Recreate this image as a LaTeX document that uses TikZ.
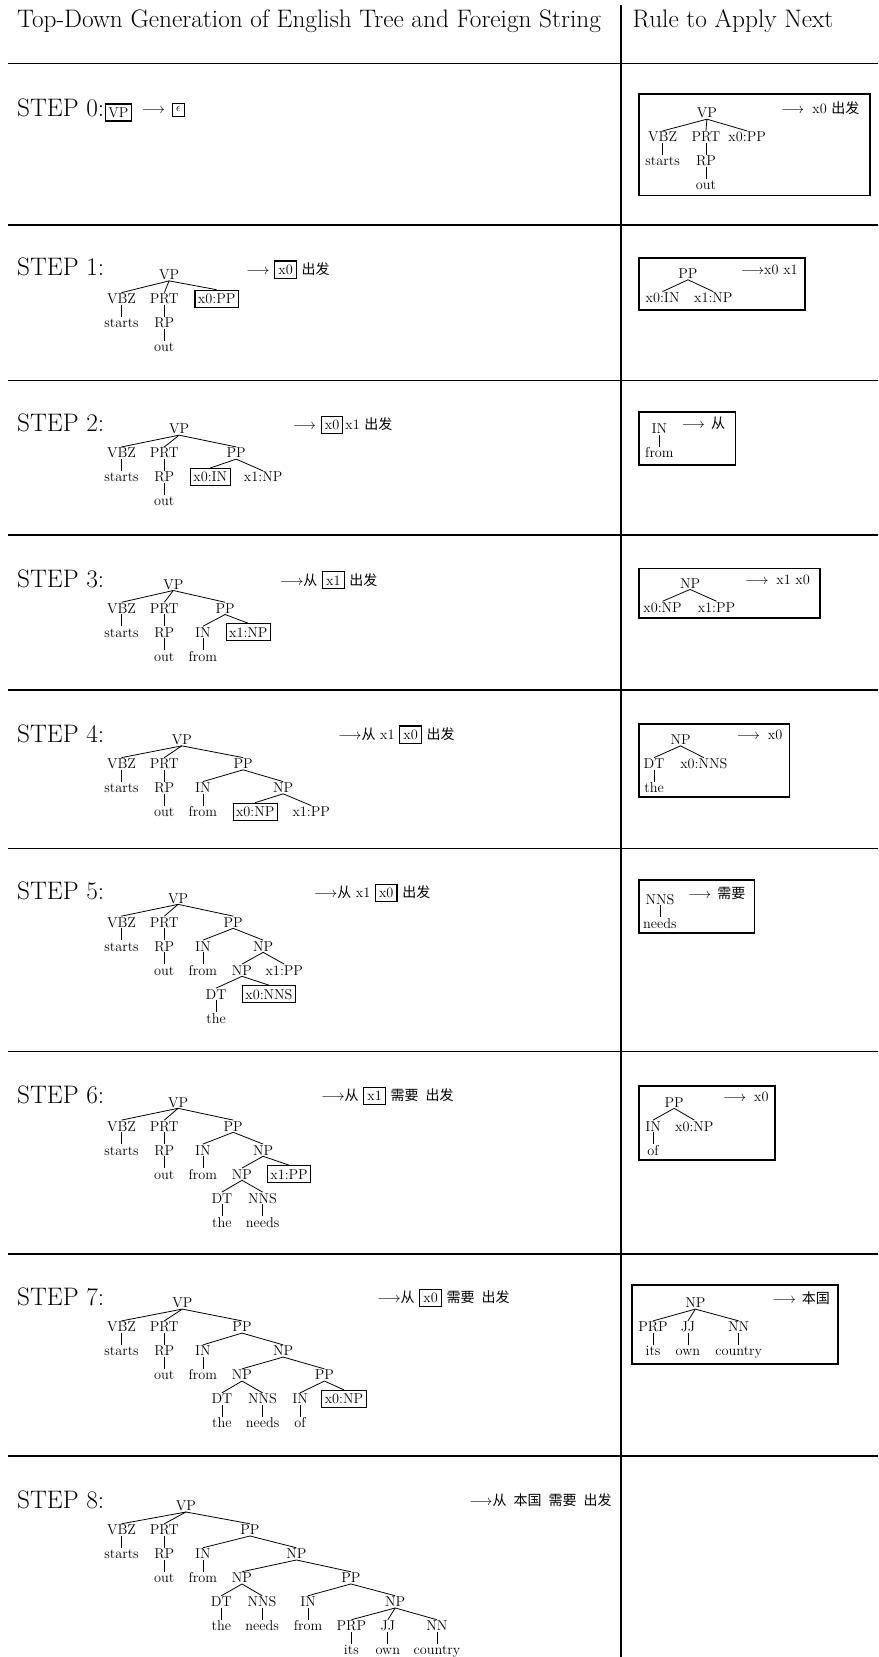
\documentclass[tikz,border=0pt]{standalone}
\usepackage{fontspec}
\newfontfamily\cjk{Noto Sans CJK SC}
\newcommand\tf{\fontsize{14.3}{17}\selectfont}
\newcommand\bigf{\fontsize{25.3}{30}\selectfont}
\newcommand\cj[1]{{\fontsize{14}{16}\selectfont\cjk #1}}
\newcommand\cs{\hspace{7pt}}
\newcommand\bv[1]{{\setlength\fboxsep{3pt}\setlength\fboxrule{1.1pt}\fbox{\rule{0pt}{9.8pt}#1}}}
\tikzset{
 tn/.style={font=\tf, inner sep=1pt, text height=9.8pt, text depth=0pt},
 bx/.style={tn, draw, line width=1.1pt, inner xsep=3pt, inner ysep=3.6pt},
 tedge/.style={line width=0.8pt},
 hrule/.style={line width=1.8pt},
 rbox/.style={line width=1.8pt},
 stl/.style={font=\bigf, anchor=west, inner sep=0pt, text height=17.2pt, text depth=0pt},
 outl/.style={tn, anchor=west, inner sep=0pt},
}
\newcommand\tcon[2]{\draw[tedge] (#1.south) -- (#2.north);}
\newcommand\lefttree{%
 \node[tn] (vbz) at (115,22.7) {VBZ};
 \node[tn] (starts) at (115,45.4) {starts};
 \node[tn] (prt) at (155.5,22.7) {PRT};
 \node[tn] (rp) at (155.5,45.4) {RP};
 \node[tn] (out) at (155.5,68.1) {out};
 \tcon{vp}{vbz}\tcon{vp}{prt}\tcon{vbz}{starts}\tcon{prt}{rp}\tcon{rp}{out}}
\newcommand\fromnode{%
 \node[tn] (in) at (192,45.4) {IN};
 \node[tn] (from) at (192,68.1) {from};
 \tcon{pp}{in}\tcon{in}{from}}
\begin{document}
\begin{tikzpicture}[x=1.0566pt,y=-1.0566pt]
\useasboundingbox (0,0) rectangle (831,1568);
% grid
\foreach \yy in {60,213,360,506,653,803,995,1187,1378}
  \draw[hrule] (7.5,\yy) -- (831,\yy);
\draw[hrule] (588,5) -- (588,1568);
% headers
\node[stl] (title) at (16,17.5) {Top-Down Generation of English Tree and Foreign String};
\node[stl] (title2) at (598.5,17.5) {Rule to Apply Next};
% step labels
\node[stl] (st0) at (16,102) {STEP 0:};
\node[stl] (st1) at (16,253) {STEP 1:};
\node[stl] (st2) at (16,400) {STEP 2:};
\node[stl] (st3) at (16,548) {STEP 3:};
\node[stl] (st4) at (16,694) {STEP 4:};
\node[stl] (st5) at (16,843) {STEP 5:};
\node[stl] (st6) at (16,1036) {STEP 6:};
\node[stl] (st7) at (16,1227) {STEP 7:};
\node[stl] (st8) at (16,1419) {STEP 8:};
% STEP 0
\node[bx] (s0vp) at (112,106.5) {VP};
\node[outl] (s0arr) at (134,102.5) {$\longrightarrow$};
\node[draw, line width=0.6pt, inner sep=0pt, minimum width=12pt, minimum height=13pt, font=\fontsize{12}{13}\selectfont] (s0eps) at (169,103.5) {$\epsilon$};
% STEP 1
\begin{scope}[shift={(0,260)}, name prefix=s1-]
\node[tn] (vp) at (160,0) {VP};
\lefttree
\node[bx] (pp) at (205,22.7) {x0:PP};
\tcon{vp}{pp}
\end{scope}
\node[outl] (s1out) at (233,255) {$\longrightarrow$ \bv{x0} \cj{出发}};
% STEP 2
\begin{scope}[shift={(0,406)}, name prefix=s2-]
\node[tn] (vp) at (169.5,0) {VP};
\lefttree
\node[tn] (pp) at (223.5,22.7) {PP};
\node[bx] (in) at (199,45.4) {x0:IN};
\node[tn] (np) at (249,45.4) {x1:NP};
\tcon{vp}{pp}\tcon{pp}{in}\tcon{pp}{np}
\end{scope}
\node[outl] (s2out) at (277,402) {$\longrightarrow$ \bv{x0}\hspace{2pt}x1 \cj{出发}};
% STEP 3
\begin{scope}[shift={(0,553)}, name prefix=s3-]
\node[tn] (vp) at (164,0) {VP};
\lefttree
\node[tn] (pp) at (213,22.7) {PP};
\fromnode
\node[bx] (np) at (235,45.4) {x1:NP};
\tcon{vp}{pp}\tcon{pp}{np}
\end{scope}
\node[outl] (s3out) at (265,549) {$\longrightarrow$\cj{从} \bv{x1} \cj{出发}};
% STEP 4
\begin{scope}[shift={(0,700)}, name prefix=s4-]
\node[tn] (vp) at (172,0) {VP};
\lefttree
\node[tn] (pp) at (230,22.7) {PP};
\fromnode
\node[tn] (np) at (268,45.4) {NP};
\node[bx] (a) at (241.5,68.1) {x0:NP};
\node[tn] (b) at (294.5,68.1) {x1:PP};
\tcon{vp}{pp}\tcon{pp}{np}\tcon{np}{a}\tcon{np}{b}
\end{scope}
\node[outl] (s4out) at (320,695) {$\longrightarrow$\cj{从} x1 \bv{x0} \cj{出发}};
% STEP 5
\begin{scope}[shift={(0,850)}, name prefix=s5-]
\node[tn] (vp) at (168.5,0) {VP};
\lefttree
\node[tn] (pp) at (220.7,22.7) {PP};
\fromnode
\node[tn] (np) at (249,45.4) {NP};
\node[tn] (npb) at (229,68.1) {NP};
\node[tn] (b) at (269,68.1) {x1:PP};
\node[tn] (dt) at (204.5,90.8) {DT};
\node[tn] (the) at (204.5,113.5) {the};
\node[bx] (c) at (254.5,90.8) {x0:NNS};
\tcon{vp}{pp}\tcon{pp}{np}\tcon{np}{npb}\tcon{np}{b}
\tcon{npb}{dt}\tcon{npb}{c}\tcon{dt}{the}
\end{scope}
\node[outl] (s5out) at (297,845) {$\longrightarrow$\cj{从} x1 \bv{x0} \cj{出发}};
% STEP 6
\begin{scope}[shift={(0,1043)}, name prefix=s6-]
\node[tn] (vp) at (168.5,0) {VP};
\lefttree
\node[tn] (pp) at (220.7,22.7) {PP};
\fromnode
\node[tn] (np) at (249,45.4) {NP};
\node[tn] (npb) at (229,68.1) {NP};
\node[bx] (b) at (273.5,68.1) {x1:PP};
\node[tn] (dt) at (210,90.8) {DT};
\node[tn] (nns) at (248.5,90.8) {NNS};
\node[tn] (the) at (210,113.5) {the};
\node[tn] (needs) at (248.5,113.5) {needs};
\tcon{vp}{pp}\tcon{pp}{np}\tcon{np}{npb}\tcon{np}{b}
\tcon{npb}{dt}\tcon{npb}{nns}\tcon{dt}{the}\tcon{nns}{needs}
\end{scope}
\node[outl] (s6out) at (304,1037) {$\longrightarrow$\cj{从} \bv{x1} \cj{需要}\cs\cj{出发}};
% STEP 7
\begin{scope}[shift={(0,1233)}, name prefix=s7-]
\node[tn] (vp) at (172.5,0) {VP};
\lefttree
\node[tn] (pp) at (229,22.7) {PP};
\fromnode
\node[tn] (np) at (268,45.4) {NP};
\node[tn] (npb) at (229,68.1) {NP};
\node[tn] (ppb) at (307,68.1) {PP};
\node[tn] (dt) at (210,90.8) {DT};
\node[tn] (nns) at (248.5,90.8) {NNS};
\node[tn] (inb) at (284,90.8) {IN};
\node[bx] (c) at (325.5,90.8) {x0:NP};
\node[tn] (the) at (210,113.5) {the};
\node[tn] (needs) at (248.5,113.5) {needs};
\node[tn] (of) at (284,113.5) {of};
\tcon{vp}{pp}\tcon{pp}{np}\tcon{np}{npb}\tcon{np}{ppb}
\tcon{npb}{dt}\tcon{npb}{nns}\tcon{dt}{the}\tcon{nns}{needs}
\tcon{ppb}{inb}\tcon{ppb}{c}\tcon{inb}{of}
\end{scope}
\node[outl] (s7out) at (357,1228) {$\longrightarrow$\cj{从} \bv{x0} \cj{需要}\cs\cj{出发}};
% STEP 8
\begin{scope}[shift={(0,1425)}, name prefix=s8-]
\node[tn] (vp) at (176,0) {VP};
\lefttree
\node[tn] (pp) at (236.5,22.7) {PP};
\fromnode
\node[tn] (np) at (280.5,45.4) {NP};
\node[tn] (npb) at (229,68.1) {NP};
\node[tn] (ppb) at (332,68.1) {PP};
\node[tn] (dt) at (209.5,90.8) {DT};
\node[tn] (nns) at (248,90.8) {NNS};
\node[tn] (inb) at (291.5,90.8) {IN};
\node[tn] (npc) at (374,90.8) {NP};
\node[tn] (the) at (209.5,113.5) {the};
\node[tn] (needs) at (248,113.5) {needs};
\node[tn] (fromb) at (291.5,113.5) {from};
\node[tn] (prp) at (332.5,113.5) {PRP};
\node[tn] (jj) at (367,113.5) {JJ};
\node[tn] (nn) at (413.5,113.5) {NN};
\node[tn] (its) at (332.5,136.2) {its};
\node[tn] (own) at (367,136.2) {own};
\node[tn] (country) at (413.5,136.2) {country};
\tcon{vp}{pp}\tcon{pp}{np}\tcon{np}{npb}\tcon{np}{ppb}
\tcon{npb}{dt}\tcon{npb}{nns}\tcon{dt}{the}\tcon{nns}{needs}
\tcon{ppb}{inb}\tcon{ppb}{npc}\tcon{inb}{fromb}
\tcon{npc}{prp}\tcon{npc}{jj}\tcon{npc}{nn}
\tcon{prp}{its}\tcon{jj}{own}\tcon{nn}{country}
\end{scope}
\node[outl] (s8out) at (444,1420) {$\longrightarrow$\cj{从}\cs\cj{本国}\cs\cj{需要}\cs\cj{出发}};
% ===== Rule boxes =====
% R0
\draw[rbox] (605,89) rectangle (823,185);
\begin{scope}[shift={(0,107)}, name prefix=r0-]
\node[tn] (vp) at (669,0) {VP};
\node[tn] (vbz) at (627,22.7) {VBZ};
\node[tn] (prt) at (668,22.7) {PRT};
\node[tn] (pp) at (707,22.7) {x0:PP};
\node[tn] (starts) at (627,45.4) {starts};
\node[tn] (rp) at (668,45.4) {RP};
\node[tn] (out) at (668,68.1) {out};
\tcon{vp}{vbz}\tcon{vp}{prt}\tcon{vp}{pp}\tcon{vbz}{starts}\tcon{prt}{rp}\tcon{rp}{out}
\end{scope}
\node[outl] (r0out) at (739,103) {$\longrightarrow$\hspace{8pt}x0 \cj{出发}};
% R1
\draw[rbox] (605,244) rectangle (762,293);
\begin{scope}[shift={(0,259)}, name prefix=r1-]
\node[tn] (pp) at (651,0) {PP};
\node[tn] (a) at (627,22.7) {x0:IN};
\node[tn] (b) at (675,22.7) {x1:NP};
\tcon{pp}{a}\tcon{pp}{b}
\end{scope}
\node[outl] (r1out) at (701,255) {$\longrightarrow$x0 x1};
% R2
\draw[rbox] (605,390) rectangle (696,440);
\begin{scope}[shift={(0,406)}, name prefix=r2-]
\node[tn] (in) at (624,0) {IN};
\node[tn] (from) at (624,22.7) {from};
\tcon{in}{from}
\end{scope}
\node[outl] (r2out) at (645,401) {$\longrightarrow$\hspace{6pt}\cj{从}};
% R3
\draw[rbox] (605,538) rectangle (776,585);
\begin{scope}[shift={(0,552)}, name prefix=r3-]
\node[tn] (np) at (653,0) {NP};
\node[tn] (a) at (627,22.7) {x0:NP};
\node[tn] (b) at (678,22.7) {x1:PP};
\tcon{np}{a}\tcon{np}{b}
\end{scope}
\node[outl] (r3out) at (705,548) {$\longrightarrow$\hspace{8pt}x1 x0};
% R4
\draw[rbox] (605,685) rectangle (747,754);
\begin{scope}[shift={(0,700)}, name prefix=r4-]
\node[tn] (np) at (644,0) {NP};
\node[tn] (dt) at (619,22.7) {DT};
\node[tn] (b) at (666,22.7) {x0:NNS};
\node[tn] (the) at (619,45.4) {the};
\tcon{np}{dt}\tcon{np}{b}\tcon{dt}{the}
\end{scope}
\node[outl] (r4out) at (697,695) {$\longrightarrow$\hspace{8pt}x0};
% R5
\draw[rbox] (605,833) rectangle (714,883);
\begin{scope}[shift={(0,851)}, name prefix=r5-]
\node[tn] (nns) at (624.5,0) {NNS};
\node[tn] (needs) at (624.5,22.7) {needs};
\tcon{nns}{needs}
\end{scope}
\node[outl] (r5out) at (651,846) {$\longrightarrow$\hspace{6pt}\cj{需要}};
% R6
\draw[rbox] (605,1028) rectangle (733,1098);
\begin{scope}[shift={(0,1043)}, name prefix=r6-]
\node[tn] (pp) at (638,0) {PP};
\node[tn] (in) at (618,22.7) {IN};
\node[tn] (b) at (657,22.7) {x0:NP};
\node[tn] (of) at (618,45.4) {of};
\tcon{pp}{in}\tcon{pp}{b}\tcon{in}{of}
\end{scope}
\node[outl] (r6out) at (684,1038) {$\longrightarrow$\hspace{8pt}x0};
% R7
\draw[rbox] (598,1216) rectangle (793,1291);
\begin{scope}[shift={(0,1233)}, name prefix=r7-]
\node[tn] (np) at (658,0) {NP};
\node[tn] (prp) at (618,22.7) {PRP};
\node[tn] (jj) at (651,22.7) {JJ};
\node[tn] (nn) at (699,22.7) {NN};
\node[tn] (its) at (618,45.4) {its};
\node[tn] (own) at (651,45.4) {own};
\node[tn] (country) at (699,45.4) {country};
\tcon{np}{prp}\tcon{np}{jj}\tcon{np}{nn}\tcon{prp}{its}\tcon{jj}{own}\tcon{nn}{country}
\end{scope}
\node[outl] (r7out) at (731,1229) {$\longrightarrow$\hspace{6pt}\cj{本国}};
\end{tikzpicture}
\end{document}
